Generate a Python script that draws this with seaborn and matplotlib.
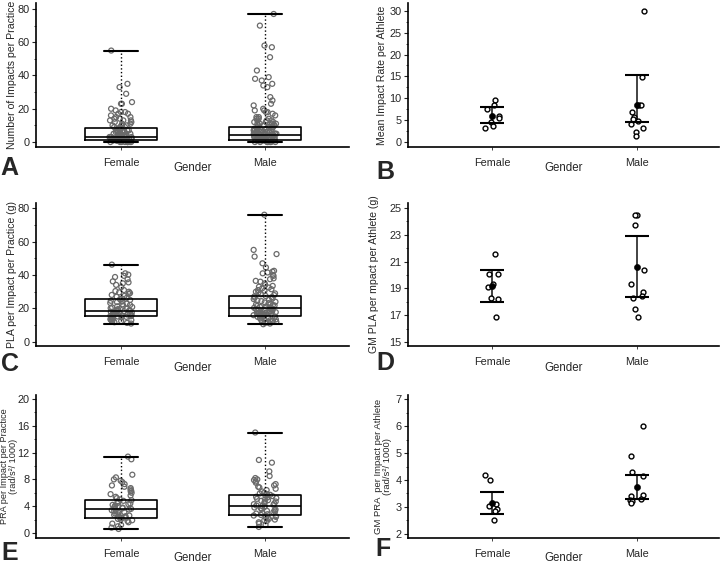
import numpy as np
import pandas as pd
import seaborn as sns
import matplotlib.pyplot as plt
from matplotlib.ticker import MultipleLocator

groups = ['Female', 'Male']

# Panel A - impacts per practice (points + box stats: min, q1, median, q3, max)
impacts_female = [55, 35, 33, 29, 24, 23, 23, 20, 19, 18, 18, 17, 17, 16, 15, 15, 14, 14, 13, 13,
                  13, 12, 12, 11, 11, 10, 10, 10, 9, 9, 9, 8, 8, 8, 8, 7, 7, 7, 7, 6, 6, 6, 6, 6,
                  5, 5, 5, 5, 5, 4, 4, 4, 4, 4, 4, 3, 3, 3, 3, 3, 3, 3, 3, 2, 2, 2, 2, 2, 2, 2, 2,
                  2, 1, 1, 1, 1, 1, 1, 1, 1, 1, 1, 1, 0, 0, 0, 0, 0, 0, 0, 0, 0, 0]
impacts_male = [77, 70, 58, 57, 51, 43, 39, 38, 37, 35, 34, 33, 27, 25, 23, 22, 20, 19, 19, 18,
                18, 17, 16, 15, 15, 14, 14, 14, 13, 13, 13, 12, 12, 12, 11, 11, 11, 11, 10, 10,
                10, 10, 9, 9, 9, 9, 9, 8, 8, 8, 8, 8, 7, 7, 7, 7, 7, 7, 6, 6, 6, 6, 6, 6, 5, 5,
                5, 5, 5, 5, 5, 4, 4, 4, 4, 4, 4, 4, 4, 3, 3, 3, 3, 3, 3, 3, 3, 2, 2, 2, 2, 2, 2,
                2, 2, 2, 1, 1, 1, 1, 1, 1, 1, 1, 1, 1, 0, 0, 0, 0, 0, 0, 0, 0]
impacts_box = [[0.2, 1.2, 3.2, 8.2, 55.0], [0.0, 1.2, 4.2, 9.2, 77.2]]

# Panel B - mean impact rate per athlete
rate_female = [9.6, 8.5, 7.5, 6.0, 5.6, 4.6, 3.7, 3.1]
rate_male = [29.9, 14.8, 8.5, 8.5, 6.8, 5.8, 5.3, 4.7, 4.2, 3.3, 2.2, 1.3]
rate_mean = [6.0, 8.5]
rate_lo = [4.3, 4.6]
rate_hi = [7.9, 15.3]

# Panel C - PLA per impact per practice (g)
pla_female = [46.2, 41.0, 40.2, 39.5, 38.8, 37.5, 36.2, 35.6, 35.0, 34.1, 32.8, 31.0, 30.4, 30.0,
              29.6, 29.2, 28.7, 28.1, 27.5, 27.0, 26.4, 25.9, 25.5, 25.1, 24.6, 24.2, 23.8, 23.3,
              22.9, 22.5, 22.1, 21.7, 21.3, 20.9, 20.6, 20.2, 19.9, 19.6, 19.3, 19.0, 18.8, 18.6,
              18.4, 18.2, 18.0, 17.8, 17.6, 17.4, 17.2, 17.0, 16.8, 16.6, 16.4, 16.2, 16.0, 15.8,
              15.6, 15.4, 15.2, 15.0, 14.8, 14.6, 14.4, 14.2, 14.0, 13.7, 13.4, 13.1, 12.8, 12.5,
              12.2, 11.8, 11.4, 11.0]
pla_male = [76.0, 55.0, 52.5, 51.0, 47.0, 44.5, 42.5, 42.0, 41.5, 41.0, 40.0, 39.5, 38.0, 37.5,
            36.5, 36.0, 35.0, 34.0, 33.5, 33.0, 32.5, 32.0, 31.5, 31.0, 30.5, 30.0, 29.5, 29.0,
            28.5, 28.0, 27.5, 27.2, 26.8, 26.5, 26.0, 25.6, 25.2, 24.8, 24.4, 24.0, 23.6, 23.2,
            22.8, 22.4, 22.0, 21.8, 21.5, 21.2, 21.0, 20.7, 20.4, 20.2, 20.0, 19.8, 19.6, 19.4,
            19.2, 19.0, 18.8, 18.6, 18.4, 18.2, 18.0, 17.8, 17.6, 17.4, 17.2, 17.0, 16.8, 16.6,
            16.4, 16.2, 16.0, 15.8, 15.6, 15.4, 15.2, 15.0, 14.7, 14.4, 14.1, 13.8, 13.5, 13.2,
            12.9, 12.6, 12.3, 12.0, 11.7, 11.4, 11.0, 10.6]
pla_box = [[11.0, 15.4, 18.6, 25.4, 46.2], [10.6, 15.4, 20.0, 27.4, 76.0]]

# Panel D - GM PLA per impact per athlete (g)
gmpla_female = [21.58, 20.1, 20.05, 19.35, 19.1, 18.3, 18.18, 16.83]
gmpla_male = [24.45, 24.45, 23.75, 20.38, 19.3, 18.75, 18.43, 18.25, 17.43, 16.88]
gmpla_mean = [19.15, 20.58]
gmpla_lo = [17.98, 18.38]
gmpla_hi = [20.35, 22.9]

# Panel E - PRA per impact per practice (rad/s^2 / 1000)
pra_female = [11.4, 11.0, 8.7, 8.3, 8.0, 7.8, 7.6, 7.3, 7.1, 6.9, 6.7, 6.5, 6.3, 6.2, 6.0, 5.8,
              5.6, 5.4, 5.2, 5.0, 4.9, 4.8, 4.7, 4.5, 4.4, 4.3, 4.2, 4.1, 4.0, 3.9, 3.8, 3.7, 3.7,
              3.6, 3.5, 3.4, 3.3, 3.2, 3.1, 3.0, 2.9, 2.8, 2.7, 2.6, 2.5, 2.4, 2.3, 2.3, 2.2, 2.1,
              2.0, 1.9, 1.8, 1.6, 1.4, 1.2, 1.0, 0.8, 0.6]
pra_male = [15.0, 10.9, 10.5, 9.2, 8.5, 8.2, 8.0, 7.9, 7.7, 7.5, 7.3, 7.1, 6.9, 6.8, 6.6, 6.4,
            6.2, 6.0, 5.9, 5.8, 5.7, 5.6, 5.5, 5.4, 5.3, 5.2, 5.1, 5.0, 4.9, 4.8, 4.7, 4.6, 4.5,
            4.4, 4.3, 4.2, 4.1, 4.0, 4.0, 3.9, 3.8, 3.7, 3.6, 3.5, 3.4, 3.3, 3.2, 3.1, 3.0, 2.9,
            2.8, 2.7, 2.6, 2.5, 2.4, 2.3, 2.2, 2.1, 2.0, 1.9, 1.8, 1.6, 1.4, 1.2, 0.9]
pra_box = [[0.6, 2.28, 3.57, 4.86, 11.4], [0.94, 2.68, 3.97, 5.7, 15.0]]

# Panel F - GM PRA per impact per athlete
gmpra_female = [4.19, 4.0, 3.1, 3.04, 2.94, 2.84, 2.5]
gmpra_male = [6.01, 4.89, 4.31, 4.13, 3.45, 3.4, 3.31, 3.26, 3.22, 3.14]
gmpra_mean = [3.16, 3.73]
gmpra_lo = [2.75, 3.28]
gmpra_hi = [3.55, 4.18]

sns.set_style('ticks')
plt.rcParams['font.family'] = ['Liberation Sans', 'DejaVu Sans']
np.random.seed(7)

W, H = 721, 565
fig = plt.figure(figsize=(W / 100, H / 100), dpi=100)


def make_ax(left, top, right, bottom):
    return fig.add_axes([left / W, 1 - bottom / H, (right - left) / W, (bottom - top) / H])


def to_frame(female, male):
    return pd.DataFrame({'Gender': ['Female'] * len(female) + ['Male'] * len(male),
                         'value': list(female) + list(male)})


def style_axis(ax, xlim, ylim, yticks, ylabel, ylab_x, xlab_y, ylab_size=7.6):
    ax.set_xlim(*xlim)
    ax.set_ylim(*ylim)
    ax.set_yticks(yticks)
    ax.yaxis.set_minor_locator(MultipleLocator((yticks[1] - yticks[0]) / 2))
    ax.set_xticks([0, 1])
    ax.set_xticklabels(groups)
    ax.tick_params(axis='y', which='major', length=3, width=0.8, labelsize=7.9, pad=1.5, left=True)
    ax.tick_params(axis='y', which='minor', length=1.5, width=0.6, left=True)
    ax.tick_params(axis='x', length=2, width=0.6, labelsize=7.8, pad=6, bottom=True)
    ax.set_ylabel(ylabel, fontsize=ylab_size, linespacing=0.95)
    ax.yaxis.set_label_coords(ylab_x, 0.5)
    ax.set_xlabel('Gender', fontsize=8.3)
    ax.xaxis.set_label_coords(0.5, xlab_y)
    sns.despine(ax=ax)
    for s in ['left', 'bottom']:
        ax.spines[s].set_linewidth(1.2)
        ax.spines[s].set_color('black')
    ax.grid(False)


def box_panel(ax, female, male, box):
    df = to_frame(female, male)
    sns.stripplot(data=df, x='Gender', y='value', ax=ax, jitter=0.08, size=3.6,
                  color='#777777', facecolor='none', edgecolor='#6a6a6a', linewidth=0.9, zorder=3)
    stats = [dict(whislo=b[0], q1=b[1], med=b[2], q3=b[3], whishi=b[4], label=g)
             for b, g in zip(box, groups)]
    ax.bxp(stats, positions=[0, 1], widths=0.5, capwidths=0.24, showfliers=False,
           manage_ticks=False, zorder=4,
           boxprops=dict(color='black', linewidth=1.2),
           medianprops=dict(color='black', linewidth=1.2),
           whiskerprops=dict(color='black', linewidth=1.0, linestyle=':'),
           capprops=dict(color='black', linewidth=1.5))


def dot_panel(ax, female, male, mean, lo, hi):
    df = to_frame(female, male)
    sns.stripplot(data=df, x='Gender', y='value', ax=ax, jitter=0.05, size=3.5,
                  color='white', edgecolor='black', linewidth=1.0, zorder=3)
    pos = np.arange(len(groups))
    ax.vlines(pos, lo, hi, color='#222222', linewidth=1.2, zorder=2)
    ax.hlines(lo, pos - 0.08, pos + 0.08, color='black', linewidth=1.5, zorder=4)
    ax.hlines(hi, pos - 0.08, pos + 0.08, color='black', linewidth=1.5, zorder=4)
    sns.scatterplot(x=pos, y=mean, ax=ax, color='black', s=20, edgecolor='black', zorder=5)


left_x = (-0.59, 1.583)
right_x = (-0.579, 1.566)

axA = make_ax(36, 3, 349, 147)
box_panel(axA, impacts_female, impacts_male, impacts_box)
style_axis(axA, left_x, (-3, 83.6), [0, 20, 40, 60, 80], 'Number of Impacts per Practice', -0.06, -0.104)

axB = make_ax(408, 3, 719, 147)
dot_panel(axB, rate_female, rate_male, rate_mean, rate_lo, rate_hi)
style_axis(axB, right_x, (-1.15, 31.8), [0, 5, 10, 15, 20, 25, 30], 'Mean Impact Rate per Athlete', -0.067, -0.104)

axC = make_ax(36, 203, 349, 346)
box_panel(axC, pla_female, pla_male, pla_box)
style_axis(axC, left_x, (-2.4, 83), [0, 20, 40, 60, 80], 'PLA per Impact per Practice (g)', -0.062, -0.112)

axD = make_ax(408, 203, 719, 346)
dot_panel(axD, gmpla_female, gmpla_male, gmpla_mean, gmpla_lo, gmpla_hi)
style_axis(axD, right_x, (14.7, 25.37), [15, 17, 19, 21, 23, 25], 'GM PLA per mpact per Athlete (g)', -0.093, -0.112)

axE = make_ax(36, 395, 349, 538)
box_panel(axE, pra_female, pra_male, pra_box)
style_axis(axE, left_x, (-0.75, 20.6), [0, 4, 8, 12, 16, 20],
           'PRA per Impact per Practice\n(rad/s\u00b2/ 1000)', -0.058, -0.1, ylab_size=6.6)

axF = make_ax(408, 395, 719, 538)
dot_panel(axF, gmpra_female, gmpra_male, gmpra_mean, gmpra_lo, gmpra_hi)
style_axis(axF, right_x, (1.85, 7.15), [2, 3, 4, 5, 6, 7],
           'GM PRA  per Impact per Athlete\n(rad/s\u00b2/ 1000)', -0.051, -0.1, ylab_size=6.8)

# panel letters
for letter, x, y in [('A', 0, 156), ('B', 376, 160), ('C', 1, 352),
                     ('D', 376, 351), ('E', 1, 541), ('F', 375, 537)]:
    fig.text(x / W, 1 - y / H, letter, fontsize=18, fontweight='bold', va='top', ha='left')

fig.savefig('out.png', dpi=100)
